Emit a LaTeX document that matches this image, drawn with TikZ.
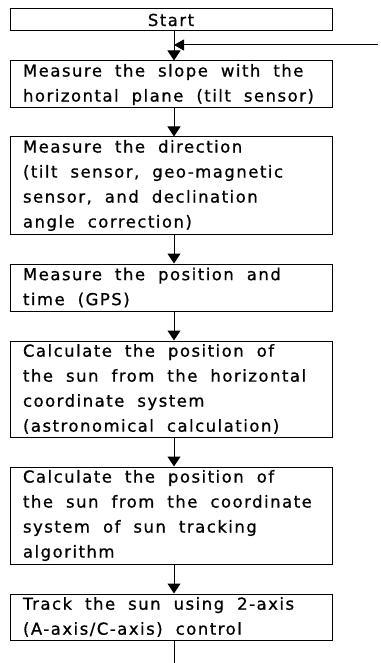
\documentclass[tikz,border=0pt]{standalone}
\usepackage{fontspec}
\setmainfont{DejaVu Sans}[LetterSpace=9,FakeBold=0.8]
\usetikzlibrary{arrows.meta}
\newcommand{\bxfont}{\fontsize{16.5}{25}\selectfont}
\newcommand{\wsp}{\hspace{13pt}}
\begin{document}
\begin{tikzpicture}[x=1pt,y=-1pt,
  box/.style={draw, line width=1pt, minimum width=322pt, text width=296pt,
    inner xsep=13pt, inner ysep=0pt, align=left,
    font=\bxfont, anchor=center},
  arr/.style={-{Triangle[width=13pt,length=10pt]}, line width=1pt},
  fbarr/.style={-{Triangle[width=11pt,length=10pt]}, line width=1pt},
  plain/.style={line width=1pt}]
\useasboundingbox (0,0) rectangle (380,663);
\coordinate (ax) at (174,0);
\node[box, minimum height=22pt, align=center] (start) at (171,20) {Start};
\node[box, minimum height=47pt] (b2) at (171,84.5)
  {\mbox{Measure\wsp the\wsp slope\wsp with\wsp the}\\\mbox{horizontal\wsp plane\wsp (tilt\wsp sensor)}};
\node[box, minimum height=97pt] (b3) at (171,185.5)
  {\mbox{Measure\wsp the\wsp direction}\\\mbox{(tilt\wsp sensor,\wsp geo-magnetic}\\\mbox{sensor,\wsp and\wsp declination}\\\mbox{angle\wsp correction)}};
\node[box, minimum height=47pt] (b4) at (171,287.5)
  {\mbox{Measure\wsp the\wsp position\wsp and}\\\mbox{time\wsp (GPS)}};
\node[box, minimum height=96pt] (b5) at (171,389)
  {\mbox{Calculate\wsp the\wsp position\wsp of}\\\mbox{the\wsp sun\wsp from\wsp the\wsp horizontal}\\\mbox{coordinate\wsp system}\\\mbox{(astronomical\wsp calculation)}};
\node[box, minimum height=97pt] (b6) at (171,515.5)
  {\mbox{Calculate\wsp the\wsp position\wsp of}\\\mbox{the\wsp sun\wsp from\wsp the\wsp coordinate}\\\mbox{system\wsp of\wsp sun\wsp tracking}\\\mbox{algorithm}};
\node[box, minimum height=46pt] (b7) at (171,617)
  {\mbox{Track\wsp the\wsp sun\wsp using\wsp 2-axis}\\\mbox{(A-axis/C-axis)\wsp control}};
\coordinate (fb) at (378,45);
\coordinate (endpt) at (174,663);
\draw[arr] (start.south -| ax) -- (b2.north -| ax);
\draw[fbarr] (fb) -- (fb -| ax);
\draw[arr] (b2.south -| ax) -- (b3.north -| ax);
\draw[arr] (b3.south -| ax) -- (b4.north -| ax);
\draw[arr] (b4.south -| ax) -- (b5.north -| ax);
\draw[arr] (b5.south -| ax) -- (b6.north -| ax);
\draw[arr] (b6.south -| ax) -- (b7.north -| ax);
\draw[plain] (b7.south -| ax) -- (endpt);
\end{tikzpicture}
\end{document}
